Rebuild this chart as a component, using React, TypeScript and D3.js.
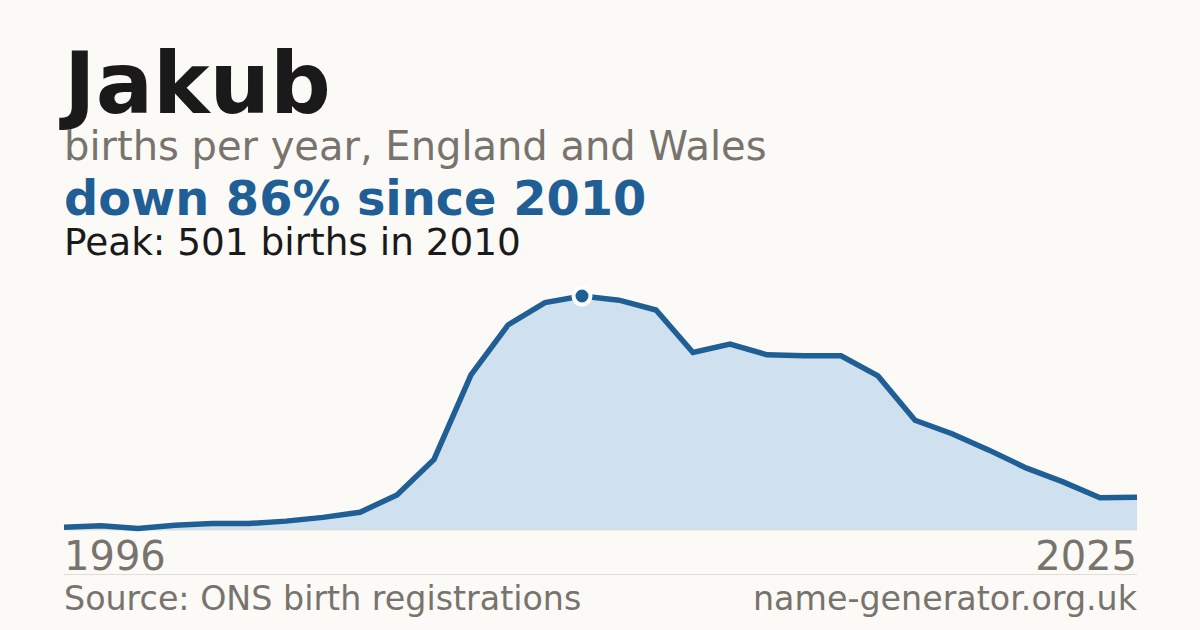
import * as d3 from 'd3';
import React, { useEffect, useRef } from 'react';

// births per year
const years = d3.range(1996, 2026);
const births = [
    6, 9, 3, 10, 14, 14, 19, 27, 38, 75,
    151, 332, 439, 487, 501, 492, 471, 380, 398, 375,
    373, 373, 330, 235, 206, 171, 133, 103, 69, 70,
];

const name = 'Jakub';
const subtitle = 'births per year, England and Wales';
const trend = 'down 86% since 2010';
const peakNote = 'Peak: 501 births in 2010';
const source = 'Source: ONS birth registrations';
const site = 'name-generator.org.uk';

const W = 1200;
const H = 630;
const FONT = '"DejaVu Sans", sans-serif';
const BLUE = '#1f5f95';
const GREY = '#78736c';

const App: React.FC = () => {
    const svgRef = useRef<SVGSVGElement | null>(null);

    useEffect(() => {
        document.body.style.margin = '0';
        const margin = { left: 64, right: 63, top: 296, bottom: 100 };

        d3.select(svgRef.current).selectAll('*').remove();
        const svg = d3.select(svgRef.current).attr('width', W).attr('height', H);

        svg.append('rect').attr('width', W).attr('height', H).attr('fill', '#fbfaf6');

        const x = d3
            .scaleLinear()
            .domain([years[0], years[years.length - 1]])
            .range([margin.left, W - margin.right]);

        const y = d3
            .scaleLinear()
            .domain([0, d3.max(births)!])
            .range([H - margin.bottom, margin.top]);

        const data = years.map((yr, i) => ({ yr, v: births[i] }));

        // headline texts
        const text = (t: string, ty: number, size: number, fill: string, weight = 'normal') =>
            svg.append('text')
                .attr('x', margin.left)
                .attr('y', ty)
                .attr('font-family', FONT)
                .attr('font-size', size)
                .attr('font-weight', weight)
                .attr('fill', fill)
                .text(t);

        text(name, 113, 85, '#1a1a1a', 'bold');
        text(subtitle, 160, 40, GREY);
        text(trend, 215, 47.8, BLUE, 'bold');
        text(peakNote, 255, 37.4, '#1a1a1a');

        // area + line
        svg.append('path')
            .datum(data)
            .attr('fill', '#cfe0ef')
            .attr('d', d3.area<{ yr: number; v: number }>()
                .x(d => x(d.yr))
                .y0(y(0))
                .y1(d => y(d.v)));

        svg.append('line')
            .attr('x1', x.range()[0]).attr('x2', x.range()[1])
            .attr('y1', y(0)).attr('y2', y(0))
            .attr('stroke', '#e0ddd5').attr('stroke-width', 1);

        svg.append('path')
            .datum(data)
            .attr('fill', 'none')
            .attr('stroke', BLUE)
            .attr('stroke-width', 5.5)
            .attr('stroke-linejoin', 'miter')
            .attr('d', d3.line<{ yr: number; v: number }>()
                .x(d => x(d.yr))
                .y(d => y(d.v)));

        // peak marker
        const peak = data[d3.maxIndex(data, d => d.v)];
        svg.append('circle')
            .attr('cx', x(peak.yr))
            .attr('cy', y(peak.v))
            .attr('r', 8.5)
            .attr('fill', BLUE)
            .attr('stroke', '#ffffff')
            .attr('stroke-width', 4);

        // year labels
        svg.append('text')
            .attr('x', x.range()[0]).attr('y', 570)
            .attr('font-family', FONT).attr('font-size', 40).attr('fill', GREY)
            .text(String(years[0]));
        svg.append('text')
            .attr('x', x.range()[1]).attr('y', 570)
            .attr('text-anchor', 'end')
            .attr('font-family', FONT).attr('font-size', 40).attr('fill', GREY)
            .text(String(years[years.length - 1]));

        // footer
        svg.append('line')
            .attr('x1', x.range()[0]).attr('x2', x.range()[1])
            .attr('y1', 574.5).attr('y2', 574.5)
            .attr('stroke', '#e0ddd5').attr('stroke-width', 1);
        svg.append('text')
            .attr('x', x.range()[0]).attr('y', 610)
            .attr('font-family', FONT).attr('font-size', 33.3).attr('fill', GREY)
            .text(source);
        svg.append('text')
            .attr('x', x.range()[1]).attr('y', 610)
            .attr('text-anchor', 'end')
            .attr('font-family', FONT).attr('font-size', 33.3).attr('fill', GREY)
            .text(site);
    }, []);

    return <svg ref={svgRef} style={{ display: 'block' }}></svg>;
};

export default App;
